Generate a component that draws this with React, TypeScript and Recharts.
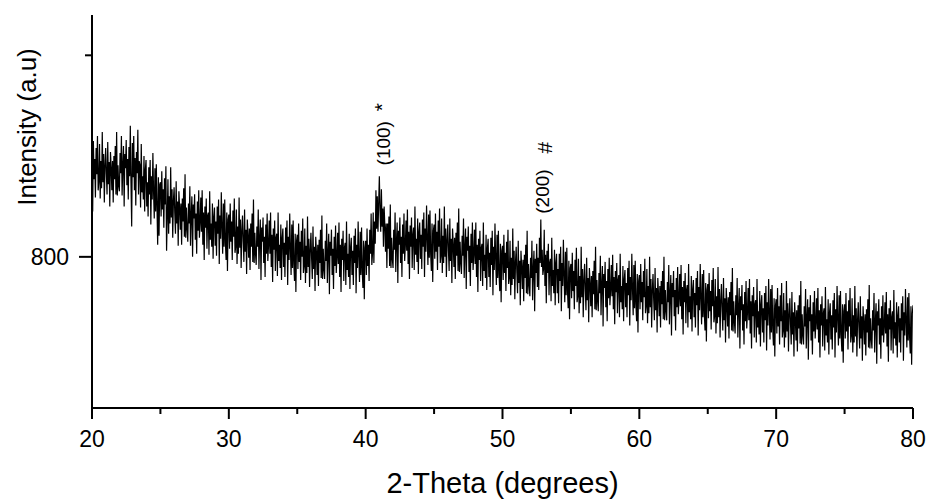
import React from 'react';
import { LineChart, Line, XAxis, YAxis, ReferenceDot } from 'recharts';

// Scan: 2-theta from 20 to 80 degrees, step 0.05
const thetaStart = 20;
const thetaStep = 0.05;

// Intensity (a.u.), one value per 0.05 degree
const intensity: number[] = [
  // 20.0
  967, 845, 915, 877, 897, 859, 908, 882, 920, 866,
  // 20.5
  875, 912, 858, 895, 868, 924, 874, 902, 854, 891,
  // 21.0
  908, 882, 862, 914, 872, 894, 850, 904, 889, 866,
  // 21.5
  895, 854, 900, 877, 910, 862, 924, 861, 891, 870,
  // 22.0
  865, 903, 883, 920, 861, 891, 910, 850, 902, 888,
  // 22.5
  916, 871, 897, 857, 909, 880, 930, 873, 830, 913,
  // 23.0
  879, 920, 866, 898, 851, 904, 883, 926, 862, 895,
  // 23.5
  891, 849, 912, 864, 880, 857, 900, 845, 887, 896,
  // 24.0
  850, 874, 840, 889, 862, 896, 832, 880, 857, 903,
  // 24.5
  864, 838, 888, 845, 892, 849, 812, 879, 821, 872,
  // 25.0
  874, 840, 885, 847, 867, 829, 878, 852, 890, 806,
  // 25.5
  840, 877, 823, 860, 833, 889, 839, 867, 819, 856,
  // 26.0
  869, 843, 823, 875, 833, 855, 811, 865, 850, 827,
  // 26.5
  853, 812, 858, 835, 868, 820, 882, 819, 849, 828,
  // 27.0
  815, 853, 833, 870, 811, 841, 860, 800, 852, 838,
  // 27.5
  862, 817, 843, 803, 855, 826, 866, 819, 834, 859,
  // 28.0
  825, 866, 812, 844, 797, 850, 829, 858, 808, 841,
  // 28.5
  844, 802, 865, 817, 833, 810, 853, 798, 840, 849,
  // 29.0
  811, 835, 801, 850, 823, 857, 793, 841, 818, 864,
  // 29.5
  829, 803, 853, 810, 857, 814, 797, 844, 786, 837,
  // 30.0
  842, 808, 853, 815, 835, 797, 846, 820, 858, 804,
  // 30.5
  810, 847, 793, 830, 803, 859, 809, 837, 789, 826,
  // 31.0
  841, 815, 795, 847, 805, 827, 783, 837, 822, 799,
  // 31.5
  828, 787, 833, 810, 843, 795, 857, 794, 824, 803,
  // 32.0
  792, 830, 810, 847, 788, 818, 837, 777, 829, 815,
  // 32.5
  839, 794, 820, 780, 832, 803, 843, 796, 811, 836,
  // 33.0
  803, 844, 790, 822, 775, 828, 807, 836, 786, 819,
  // 33.5
  823, 781, 844, 796, 812, 789, 832, 777, 819, 828,
  // 34.0
  790, 814, 780, 829, 802, 836, 772, 820, 797, 843,
  // 34.5
  808, 782, 832, 789, 836, 793, 776, 823, 765, 816,
  // 35.0
  822, 788, 833, 795, 815, 777, 826, 800, 838, 784,
  // 35.5
  791, 828, 774, 811, 784, 840, 790, 818, 770, 807,
  // 36.0
  824, 798, 778, 830, 788, 810, 766, 820, 805, 782,
  // 36.5
  812, 771, 817, 794, 827, 779, 841, 778, 808, 787,
  // 37.0
  778, 816, 796, 833, 774, 804, 823, 763, 815, 801,
  // 37.5
  827, 782, 808, 768, 820, 791, 831, 784, 799, 824,
  // 38.0
  793, 834, 780, 812, 765, 818, 797, 826, 776, 809,
  // 38.5
  814, 772, 835, 787, 803, 780, 823, 768, 810, 819,
  // 39.0
  782, 806, 772, 821, 794, 828, 764, 812, 789, 835,
  // 39.5
  801, 775, 825, 782, 829, 786, 769, 816, 758, 809,
  // 40.0
  816, 782, 828, 791, 812, 776, 827, 803, 843, 792,
  // 40.5
  803, 844, 794, 835, 813, 866, 828, 860, 825, 854,
  // 41.0
  880, 846, 825, 867, 830, 848, 810, 850, 831, 805,
  // 41.5
  833, 789, 833, 808, 840, 791, 852, 789, 819, 798,
  // 42.0
  789, 827, 807, 844, 785, 815, 834, 774, 826, 812,
  // 42.5
  839, 794, 820, 780, 832, 803, 843, 796, 811, 836,
  // 43.0
  806, 847, 793, 825, 778, 831, 810, 839, 789, 822,
  // 43.5
  829, 787, 850, 802, 818, 795, 838, 783, 825, 834,
  // 44.0
  798, 822, 788, 837, 810, 844, 780, 828, 805, 851,
  // 44.5
  818, 792, 842, 799, 846, 803, 786, 833, 775, 826,
  // 45.0
  832, 798, 843, 805, 825, 787, 836, 810, 848, 794,
  // 45.5
  801, 838, 784, 821, 794, 850, 800, 828, 780, 817,
  // 46.0
  832, 806, 786, 838, 796, 818, 774, 828, 813, 790,
  // 46.5
  819, 778, 824, 801, 834, 786, 848, 785, 815, 794,
  // 47.0
  783, 821, 801, 838, 779, 809, 828, 768, 820, 806,
  // 47.5
  830, 785, 811, 771, 823, 794, 834, 787, 802, 827,
  // 48.0
  793, 834, 780, 812, 765, 818, 797, 826, 776, 809,
  // 48.5
  813, 771, 834, 786, 802, 779, 822, 767, 809, 818,
  // 49.0
  780, 804, 770, 819, 792, 826, 762, 810, 787, 833,
  // 49.5
  798, 772, 822, 779, 826, 783, 766, 813, 755, 806,
  // 50.0
  811, 777, 822, 784, 804, 766, 815, 789, 827, 773,
  // 50.5
  779, 816, 762, 799, 772, 828, 778, 806, 758, 795,
  // 51.0
  810, 784, 764, 816, 774, 796, 752, 806, 791, 768,
  // 51.5
  797, 756, 802, 779, 812, 764, 826, 763, 793, 772,
  // 52.0
  761, 799, 779, 816, 757, 787, 806, 746, 798, 784,
  // 52.5
  813, 770, 799, 767, 819, 794, 837, 790, 807, 782,
  // 53.0
  788, 827, 771, 802, 754, 806, 784, 813, 762, 794,
  // 53.5
  798, 756, 819, 771, 787, 764, 807, 752, 794, 803,
  // 54.0
  764, 788, 754, 803, 776, 810, 746, 794, 771, 817,
  // 54.5
  781, 755, 805, 762, 809, 766, 749, 796, 738, 789,
  // 55.0
  793, 759, 804, 766, 786, 748, 797, 771, 809, 755,
  // 55.5
  761, 798, 744, 781, 754, 810, 760, 788, 740, 777,
  // 56.0
  793, 767, 747, 799, 757, 779, 735, 789, 774, 751,
  // 56.5
  781, 740, 786, 763, 796, 748, 810, 747, 777, 756,
  // 57.0
  746, 784, 764, 801, 742, 772, 791, 731, 783, 769,
  // 57.5
  795, 750, 776, 736, 788, 759, 799, 752, 767, 792,
  // 58.0
  761, 802, 748, 780, 733, 786, 765, 794, 744, 777,
  // 58.5
  782, 740, 803, 755, 771, 748, 791, 736, 778, 787,
  // 59.0
  750, 774, 740, 789, 762, 796, 732, 780, 757, 803,
  // 59.5
  768, 742, 792, 749, 796, 753, 736, 783, 725, 776,
  // 60.0
  782, 748, 793, 755, 775, 737, 786, 760, 798, 744,
  // 60.5
  751, 788, 734, 771, 744, 800, 750, 778, 730, 767,
  // 61.0
  783, 757, 737, 789, 747, 769, 725, 779, 764, 741,
  // 61.5
  771, 730, 776, 753, 786, 738, 800, 737, 767, 746,
  // 62.0
  737, 775, 755, 792, 733, 763, 782, 722, 774, 760,
  // 62.5
  786, 741, 767, 727, 779, 750, 790, 743, 758, 783,
  // 63.0
  751, 792, 738, 770, 723, 776, 755, 784, 734, 767,
  // 63.5
  772, 730, 793, 745, 761, 738, 781, 726, 768, 777,
  // 64.0
  740, 764, 730, 779, 752, 786, 722, 770, 747, 793,
  // 64.5
  759, 733, 783, 740, 787, 744, 727, 774, 716, 767,
  // 65.0
  773, 739, 784, 746, 766, 728, 777, 751, 789, 735,
  // 65.5
  741, 778, 724, 761, 734, 790, 740, 768, 720, 757,
  // 66.0
  773, 747, 727, 779, 737, 759, 715, 769, 754, 731,
  // 66.5
  760, 719, 765, 742, 775, 727, 789, 726, 756, 735,
  // 67.0
  724, 762, 742, 779, 720, 750, 769, 709, 761, 747,
  // 67.5
  772, 727, 753, 713, 765, 736, 776, 729, 744, 769,
  // 68.0
  737, 778, 724, 756, 709, 762, 741, 770, 720, 753,
  // 68.5
  757, 715, 778, 730, 746, 723, 766, 711, 753, 762,
  // 69.0
  725, 749, 715, 764, 737, 771, 707, 755, 732, 778,
  // 69.5
  744, 718, 768, 725, 772, 729, 712, 759, 701, 752,
  // 70.0
  758, 724, 769, 731, 751, 713, 762, 736, 774, 720,
  // 70.5
  727, 764, 710, 747, 720, 776, 726, 754, 706, 743,
  // 71.0
  759, 733, 713, 765, 723, 745, 701, 755, 740, 717,
  // 71.5
  747, 706, 752, 729, 762, 714, 776, 713, 743, 722,
  // 72.0
  713, 751, 731, 768, 709, 739, 758, 698, 750, 736,
  // 72.5
  762, 717, 743, 703, 755, 726, 766, 719, 734, 759,
  // 73.0
  728, 769, 715, 747, 700, 753, 732, 761, 711, 744,
  // 73.5
  749, 707, 770, 722, 738, 715, 758, 703, 745, 754,
  // 74.0
  718, 742, 708, 757, 730, 764, 700, 748, 725, 771,
  // 74.5
  738, 712, 762, 719, 766, 723, 706, 753, 695, 746,
  // 75.0
  753, 719, 764, 726, 746, 708, 757, 731, 769, 715,
  // 75.5
  722, 759, 705, 742, 715, 771, 721, 749, 701, 738,
  // 76.0
  755, 729, 709, 761, 719, 741, 697, 751, 736, 713,
  // 76.5
  743, 702, 748, 725, 758, 710, 772, 709, 739, 718,
  // 77.0
  709, 747, 727, 764, 705, 735, 754, 694, 746, 732,
  // 77.5
  758, 713, 739, 699, 751, 722, 762, 715, 730, 755,
  // 78.0
  724, 765, 711, 743, 696, 749, 728, 757, 707, 740,
  // 78.5
  746, 704, 767, 719, 735, 712, 755, 700, 742, 751,
  // 79.0
  715, 739, 705, 754, 727, 761, 697, 745, 722, 768,
  // 79.5
  736, 710, 760, 717, 764, 721, 704, 751, 693, 744,
  // 80.0
  752,
];

const xTicks = [20, 25, 30, 35, 40, 45, 50, 55, 60, 65, 70, 75, 80];
const xMajorStep = 10;
const yTicks = [800, 1000];
const yLabeled = [800];
const xTitle = '2-Theta (degrees)';
const yTitle = 'Intensity (a.u)';

// Peak annotations
const peakThetas = [41.0, 52.8];
const peakIntensities = [880, 837];
const peakHkl = ['(100)', '(200)'];
const peakMarks = ['*', '#'];

const data = intensity.map((v, i) => ({
  theta: Math.round((thetaStart + i * thetaStep) * 100) / 100,
  intensity: v,
}));

const FONT = '"Liberation Sans", Arial, Helvetica, sans-serif';

const XTick = (props: any) => {
  const { x, y, payload } = props;
  const v = payload.value;
  const major = v % xMajorStep === 0;
  return (
    <g>
      <line x1={x} x2={x} y1={y} y2={y + (major ? 11 : 6)} stroke="#000" strokeWidth={2} />
      {major && (
        <text x={x} y={y + 39} textAnchor="middle" fontSize={23} fill="#000" fontFamily={FONT}>
          {v}
        </text>
      )}
    </g>
  );
};

const YTick = (props: any) => {
  const { x, y, payload } = props;
  const v = payload.value;
  const major = yLabeled.includes(v);
  return (
    <g>
      <line x1={x - (major ? 13 : 7)} x2={x} y1={y} y2={y} stroke="#000" strokeWidth={2} />
      {major && (
        <text x={x - 23} y={y + 8} textAnchor="end" fontSize={23} fill="#000" fontFamily={FONT}>
          {v}
        </text>
      )}
    </g>
  );
};

const XTitle = (props: any) => {
  const vb = props.viewBox || { x: 92, y: 408, width: 821, height: 93 };
  return (
    <text x={vb.x + vb.width / 2} y={vb.y + 85} textAnchor="middle" fontSize={29} fill="#000" fontFamily={FONT}>
      {xTitle}
    </text>
  );
};

const YTitle = () => {
  const cx = 27;
  const cy = 127;
  return (
    <text
      x={cx}
      y={cy}
      textAnchor="middle"
      dominantBaseline="central"
      transform={`rotate(-90 ${cx} ${cy})`}
      fontSize={26}
      fill="#000"
      fontFamily={FONT}
    >
      {yTitle}
    </text>
  );
};

const PeakLabel = (props: any) => {
  const { viewBox, hkl, mark, dx, dy, mdx, mdy } = props;
  const cx = (viewBox?.x ?? 0) + (viewBox?.width ?? 0) / 2;
  const cy = (viewBox?.y ?? 0) + (viewBox?.height ?? 0) / 2;
  const tx = cx + dx;
  const ty = cy + dy;
  const mx = cx + mdx;
  const my = cy + mdy;
  return (
    <g>
      <text
        x={tx}
        y={ty}
        textAnchor="middle"
        dominantBaseline="central"
        transform={`rotate(-90 ${tx} ${ty})`}
        fontSize={19}
        fill="#000"
        fontFamily={FONT}
      >
        {hkl}
      </text>
      <text
        x={mx}
        y={my}
        textAnchor="middle"
        dominantBaseline="central"
        transform={`rotate(-90 ${mx} ${my})`}
        fontSize={21}
        fill="#000"
        fontFamily={FONT}
      >
        {mark}
      </text>
    </g>
  );
};

const labelOffsets = [
  { dx: 4, dy: -33, mdx: 2, mdy: -69 },
  { dx: 2, dy: -28, mdx: 4, mdy: -72 },
];

export default function App() {
  return (
    <div style={{ position: 'absolute', left: 0, top: 0, width: 930, height: 501, background: '#fff' }}>
      <LineChart
        width={930}
        height={501}
        data={data}
        margin={{ top: 15, right: 17, bottom: 0, left: 0 }}
      >
        <XAxis
          dataKey="theta"
          type="number"
          domain={[20, 80]}
          ticks={xTicks}
          interval={0}
          tickLine={false}
          tickSize={0}
          tickMargin={0}
          tick={<XTick />}
          axisLine={{ stroke: '#000', strokeWidth: 2 }}
          allowDataOverflow
          height={93}
          label={<XTitle />}
        />
        <YAxis
          type="number"
          domain={[650, 1040]}
          ticks={yTicks}
          interval={0}
          tickLine={false}
          tickSize={0}
          tickMargin={0}
          tick={<YTick />}
          axisLine={{ stroke: '#000', strokeWidth: 2 }}
          allowDataOverflow
          width={92}
          label={<YTitle />}
        />
        <Line
          type="linear"
          dataKey="intensity"
          stroke="#000"
          strokeWidth={1.2}
          dot={false}
          activeDot={false}
          isAnimationActive={false}
        />
        {peakThetas.map((t, i) => (
          <ReferenceDot
            key={i}
            x={t}
            y={peakIntensities[i]}
            r={0}
            fill="none"
            stroke="none"
            ifOverflow="visible"
            label={
              <PeakLabel
                hkl={peakHkl[i]}
                mark={peakMarks[i]}
                dx={labelOffsets[i].dx}
                dy={labelOffsets[i].dy}
                mdx={labelOffsets[i].mdx}
                mdy={labelOffsets[i].mdy}
              />
            }
          />
        ))}
      </LineChart>
    </div>
  );
}
